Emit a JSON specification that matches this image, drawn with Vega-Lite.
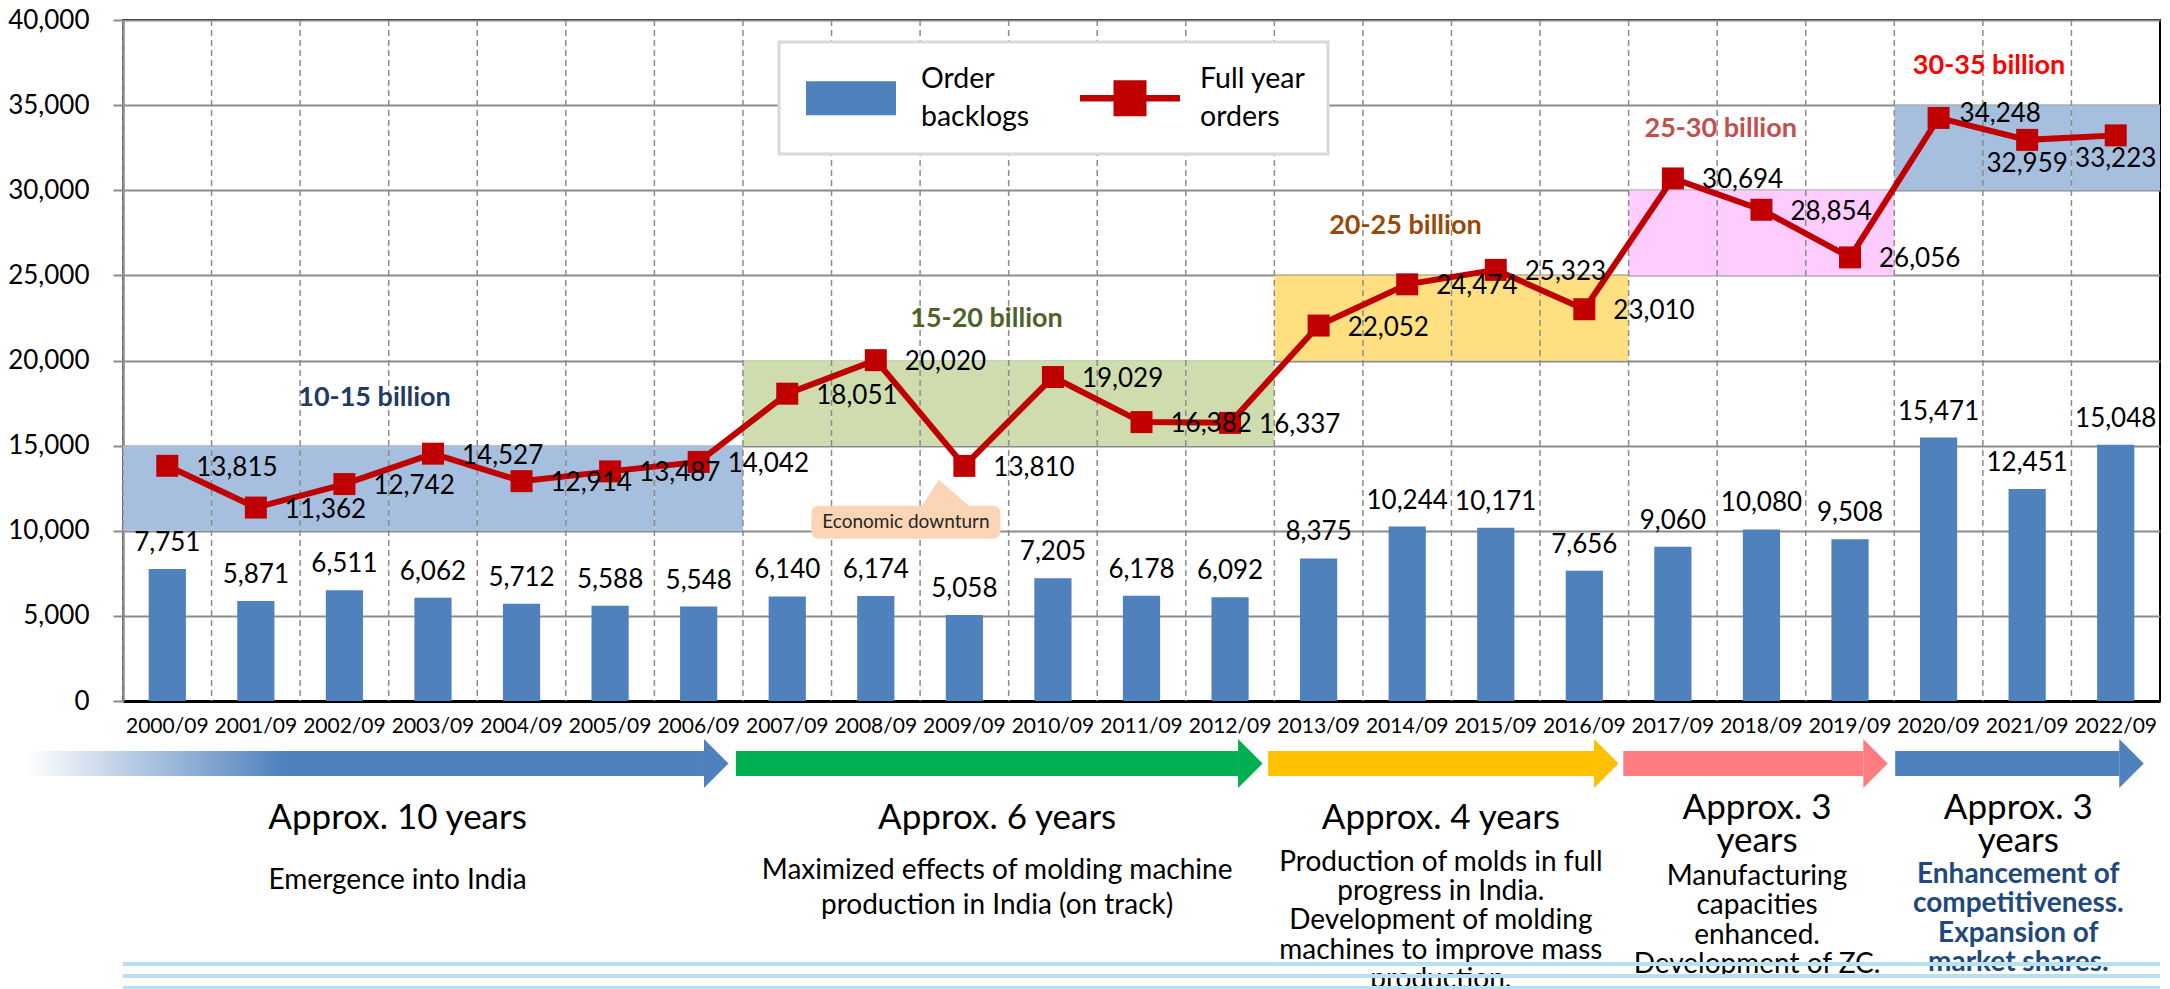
{
 "$schema": "https://vega.github.io/schema/vega-lite/v6.json",
 "background": "#ffffff",
 "padding": {"left": 6, "top": 6, "right": 5, "bottom": 0},
 "bounds": "flush",
 "spacing": 50,
 "config": {
  "font": "Lato",
  "view": {"stroke": "#000000", "strokeWidth": 2},
  "axis": {"labelFont": "Lato", "labelColor": "#000000", "titleFont": "Lato"},
  "legend": {"labelFont": "Lato"},
  "text": {"font": "Lato"}
 },
 "datasets": {
  "orders": [
   {"year": "2000/09", "backlog": 7751, "orders": 13815},
   {"year": "2001/09", "backlog": 5871, "orders": 11362},
   {"year": "2002/09", "backlog": 6511, "orders": 12742},
   {"year": "2003/09", "backlog": 6062, "orders": 14527},
   {"year": "2004/09", "backlog": 5712, "orders": 12914},
   {"year": "2005/09", "backlog": 5588, "orders": 13487},
   {"year": "2006/09", "backlog": 5548, "orders": 14042},
   {"year": "2007/09", "backlog": 6140, "orders": 18051},
   {"year": "2008/09", "backlog": 6174, "orders": 20020},
   {"year": "2009/09", "backlog": 5058, "orders": 13810},
   {"year": "2010/09", "backlog": 7205, "orders": 19029},
   {"year": "2011/09", "backlog": 6178, "orders": 16382},
   {"year": "2012/09", "backlog": 6092, "orders": 16337},
   {"year": "2013/09", "backlog": 8375, "orders": 22052},
   {"year": "2014/09", "backlog": 10244, "orders": 24474},
   {"year": "2015/09", "backlog": 10171, "orders": 25323},
   {"year": "2016/09", "backlog": 7656, "orders": 23010},
   {"year": "2017/09", "backlog": 9060, "orders": 30694},
   {"year": "2018/09", "backlog": 10080, "orders": 28854},
   {"year": "2019/09", "backlog": 9508, "orders": 26056},
   {"year": "2020/09", "backlog": 15471, "orders": 34248},
   {"year": "2021/09", "backlog": 12451, "orders": 32959},
   {"year": "2022/09", "backlog": 15048, "orders": 33223}
  ],
  "bands": [
   {"year": "2000/09", "band": "10-15 billion", "lo": 10000, "hi": 15000},
   {"year": "2001/09", "band": "10-15 billion", "lo": 10000, "hi": 15000},
   {"year": "2002/09", "band": "10-15 billion", "lo": 10000, "hi": 15000},
   {"year": "2003/09", "band": "10-15 billion", "lo": 10000, "hi": 15000},
   {"year": "2004/09", "band": "10-15 billion", "lo": 10000, "hi": 15000},
   {"year": "2005/09", "band": "10-15 billion", "lo": 10000, "hi": 15000},
   {"year": "2006/09", "band": "10-15 billion", "lo": 10000, "hi": 15000},
   {"year": "2007/09", "band": "15-20 billion", "lo": 15000, "hi": 20000},
   {"year": "2008/09", "band": "15-20 billion", "lo": 15000, "hi": 20000},
   {"year": "2009/09", "band": "15-20 billion", "lo": 15000, "hi": 20000},
   {"year": "2010/09", "band": "15-20 billion", "lo": 15000, "hi": 20000},
   {"year": "2011/09", "band": "15-20 billion", "lo": 15000, "hi": 20000},
   {"year": "2012/09", "band": "15-20 billion", "lo": 15000, "hi": 20000},
   {"year": "2013/09", "band": "20-25 billion", "lo": 20000, "hi": 25000},
   {"year": "2014/09", "band": "20-25 billion", "lo": 20000, "hi": 25000},
   {"year": "2015/09", "band": "20-25 billion", "lo": 20000, "hi": 25000},
   {"year": "2016/09", "band": "20-25 billion", "lo": 20000, "hi": 25000},
   {"year": "2017/09", "band": "25-30 billion", "lo": 25000, "hi": 30000},
   {"year": "2018/09", "band": "25-30 billion", "lo": 25000, "hi": 30000},
   {"year": "2019/09", "band": "25-30 billion", "lo": 25000, "hi": 30000},
   {"year": "2020/09", "band": "30-35 billion", "lo": 30000, "hi": 35000},
   {"year": "2021/09", "band": "30-35 billion", "lo": 30000, "hi": 35000},
   {"year": "2022/09", "band": "30-35 billion", "lo": 30000, "hi": 35000}
  ],
  "bandLabels": [
   {"band": "10-15 billion", "year": "2002/09", "value": 17790},
   {"band": "15-20 billion", "year": "2009/09", "value": 22430},
   {"band": "20-25 billion", "year": "2014/09", "value": 27890},
   {"band": "25-30 billion", "year": "2018/09", "value": 33600},
   {"band": "30-35 billion", "year": "2021/09", "value": 37300}
  ],
  "callout": [
   {"text": "Economic downturn", "year": "2008/09", "value": 10500}
  ],
  "periods": [
   {"phase": 1, "start": 1998.41, "end": 2006.06, "mid": 2002.6, "title": "Approx. 10 years", "note": "Emergence into India"},
   {"phase": 2, "start": 2006.42, "end": 2012.09, "mid": 2009.37, "title": "Approx. 6 years", "note": "Maximized effects of molding machine\nproduction in India (on track)"},
   {"phase": 3, "start": 2012.43, "end": 2016.11, "mid": 2014.38, "title": "Approx. 4 years", "note": "Production of molds in full\nprogress in India.\nDevelopment of molding\nmachines to improve mass\nproduction."},
   {"phase": 4, "start": 2016.44, "end": 2019.15, "mid": 2017.95, "title": "Approx. 3\nyears", "note": "Manufacturing\ncapacities\nenhanced.\nDevelopment of ZC."},
   {"phase": 5, "start": 2019.51, "end": 2022.04, "mid": 2020.9, "title": "Approx. 3\nyears", "note": "Enhancement of\ncompetitiveness.\nExpansion of\nmarket shares."}
  ],
  "stripes": [{"stripe": "a"}, {"stripe": "b"}, {"stripe": "c"}]
 },
 "resolve": {"scale": {"color": "independent", "fill": "independent"}},
 "vconcat": [
  {
   "width": 2037,
   "height": 681,
   "encoding": {
    "x": {"field": "year", "type": "nominal", "title": null,
     "scale": {"paddingInner": 0, "paddingOuter": 0},
     "axis": {"labelFontSize": 21, "labelAngle": 0, "labelPadding": 14, "ticks": false, "tickSize": 0, "grid": false, "domain": true, "domainColor": "#000000", "domainWidth": 3, "labelOverlap": false, "labelBound": false}}
   },
   "layer": [
    {
     "data": {"name": "bands"},
     "mark": {"type": "bar", "width": {"band": 1}, "strokeWidth": 0},
     "encoding": {
      "y": {"field": "lo", "type": "quantitative", "title": null,
       "scale": {"domain": [0, 40000], "nice": false},
       "axis": {"values": [0, 5000, 10000, 15000, 20000, 25000, 30000, 35000, 40000], "format": ",.0f", "labelFontSize": 26, "labelPadding": 24, "tickSize": 10, "tickColor": "#8C8C8C", "tickWidth": 2, "domainColor": "#8C8C8C", "domainWidth": 2.5, "grid": true, "gridColor": "#8C8C8C", "gridWidth": 2}},
      "y2": {"field": "hi"},
      "fill": {"field": "band", "type": "nominal",
       "scale": {"domain": ["10-15 billion", "15-20 billion", "20-25 billion", "25-30 billion", "30-35 billion"], "range": ["#A7BFDE", "#CFDDAE", "#FFDF80", "#FFCCFF", "#A7BFDE"]},
       "legend": null}
     }
    },
    {
     "data": {"name": "orders"},
     "mark": {"type": "rule", "color": "#8C8C8C", "strokeWidth": 1.5, "strokeDash": [6, 4]},
     "encoding": {"x": {"field": "year", "type": "nominal", "bandPosition": 0, "title": null}}
    },
    {
     "data": {"name": "orders"},
     "mark": {"type": "bar", "width": {"band": 0.42}},
     "encoding": {
      "y": {"field": "backlog", "type": "quantitative", "title": null},
      "color": {"datum": "Order backlogs", "type": "nominal",
       "scale": {"domain": ["Order backlogs", "Full year orders"], "range": ["#4F81BD", "#C00000"]},
       "legend": {
        "title": null, "orient": "none", "legendX": 656, "legendY": 22, "direction": "horizontal", "columns": 2,
        "fillColor": "#ffffff", "strokeColor": "#D9D9D9", "padding": 22, "columnPadding": 50,
        "labelFontSize": 28.5, "labelColor": "#000000", "labelLimit": 400, "labelOffset": 20,
        "symbolSize": 10000, "symbolStrokeWidth": 0, "symbolOpacity": 1,
        "labelExpr": "datum.label == 'Order backlogs' ? ['Order', 'backlogs'] : ['Full year', 'orders']",
        "encode": {
         "symbols": {"update": {
          "shape": {"signal": "datum.value == 'Order backlogs' ? 'M-0.9,-0.34H0.9V0.34H-0.9Z' : 'M-1,-0.065H1V0.065H-1Z M-0.33,-0.36H0.33V0.36H-0.33Z'"},
          "fill": {"signal": "datum.value == 'Order backlogs' ? '#4F81BD' : '#C00000'"},
          "stroke": {"value": "transparent"},
          "strokeWidth": {"value": 0},
          "opacity": {"value": 1},
          "fillOpacity": {"value": 1},
          "y": {"value": 34}
         }},
         "labels": {"update": {"lineHeight": {"value": 38}, "dy": {"value": -19}, "y": {"value": 34}}},
         "legend": {"update": {"strokeWidth": {"value": 3}}}
        }
       }
      }
     }
    },
    {
     "data": {"name": "orders"},
     "mark": {"type": "line", "strokeWidth": 6},
     "encoding": {
      "y": {"field": "orders", "type": "quantitative", "title": null},
      "color": {"datum": "Full year orders", "type": "nominal"}
     }
    },
    {
     "data": {"name": "orders"},
     "mark": {"type": "point", "shape": "square", "filled": true, "size": 484, "opacity": 1},
     "encoding": {
      "y": {"field": "orders", "type": "quantitative", "title": null},
      "color": {"datum": "Full year orders", "type": "nominal"}
     }
    },
    {
     "data": {"name": "orders"},
     "mark": {"type": "text", "fontSize": 26, "color": "#000000", "baseline": "middle", "align": "center", "dy": -26},
     "encoding": {
      "y": {"field": "backlog", "type": "quantitative", "title": null},
      "text": {"field": "backlog", "type": "quantitative", "format": ","}
     }
    },
    {
     "data": {"name": "orders"},
     "transform": [{"filter": "datum.year <= '2019/09'"}],
     "mark": {"type": "text", "fontSize": 26, "color": "#000000", "baseline": "middle", "align": "left", "dx": 29, "dy": 2},
     "encoding": {
      "y": {"field": "orders", "type": "quantitative", "title": null},
      "text": {"field": "orders", "type": "quantitative", "format": ","}
     }
    },
    {
     "data": {"name": "orders"},
     "transform": [{"filter": "datum.year == '2020/09'"}],
     "mark": {"type": "text", "fontSize": 26, "color": "#000000", "baseline": "middle", "align": "left", "dx": 21, "dy": -4},
     "encoding": {
      "y": {"field": "orders", "type": "quantitative", "title": null},
      "text": {"field": "orders", "type": "quantitative", "format": ","}
     }
    },
    {
     "data": {"name": "orders"},
     "transform": [{"filter": "datum.year >= '2021/09'"}],
     "mark": {"type": "text", "fontSize": 26, "color": "#000000", "baseline": "middle", "align": "center", "dy": 24},
     "encoding": {
      "y": {"field": "orders", "type": "quantitative", "title": null},
      "text": {"field": "orders", "type": "quantitative", "format": ","}
     }
    },
    {
     "data": {"name": "bandLabels"},
     "transform": [{"filter": "datum.band == '10-15 billion'"}],
     "mark": {"type": "text", "fontSize": 27, "fontWeight": "bold", "color": "#1F3B66", "baseline": "middle", "align": "center"},
     "encoding": {
      "x": {"field": "year", "type": "nominal", "bandPosition": 0.84, "title": null},
      "y": {"field": "value", "type": "quantitative", "title": null},
      "text": {"field": "band"}
     }
    },
    {
     "data": {"name": "bandLabels"},
     "transform": [{"filter": "datum.band == '15-20 billion'"}],
     "mark": {"type": "text", "fontSize": 27, "fontWeight": "bold", "color": "#4F6228", "baseline": "middle", "align": "center"},
     "encoding": {
      "x": {"field": "year", "type": "nominal", "bandPosition": 0.75, "title": null},
      "y": {"field": "value", "type": "quantitative", "title": null},
      "text": {"field": "band"}
     }
    },
    {
     "data": {"name": "bandLabels"},
     "transform": [{"filter": "datum.band == '20-25 billion'"}],
     "mark": {"type": "text", "fontSize": 27, "fontWeight": "bold", "color": "#984807", "baseline": "middle", "align": "center"},
     "encoding": {
      "x": {"field": "year", "type": "nominal", "bandPosition": 0.48, "title": null},
      "y": {"field": "value", "type": "quantitative", "title": null},
      "text": {"field": "band"}
     }
    },
    {
     "data": {"name": "bandLabels"},
     "transform": [{"filter": "datum.band == '25-30 billion'"}],
     "mark": {"type": "text", "fontSize": 27, "fontWeight": "bold", "color": "#C0504D", "baseline": "middle", "align": "center"},
     "encoding": {
      "x": {"field": "year", "type": "nominal", "bandPosition": 0.04, "title": null},
      "y": {"field": "value", "type": "quantitative", "title": null},
      "text": {"field": "band"}
     }
    },
    {
     "data": {"name": "bandLabels"},
     "transform": [{"filter": "datum.band == '30-35 billion'"}],
     "mark": {"type": "text", "fontSize": 27, "fontWeight": "bold", "color": "#FF0000", "baseline": "middle", "align": "center"},
     "encoding": {
      "x": {"field": "year", "type": "nominal", "bandPosition": 0.07, "title": null},
      "y": {"field": "value", "type": "quantitative", "title": null},
      "text": {"field": "band"}
     }
    },
    {
     "data": {"name": "callout"},
     "mark": {"type": "point", "shape": "M-0.865,-0.165H0.16L0.33,-0.425L0.63,-0.165H0.865Q0.945,-0.165 0.945,-0.085V0.085Q0.945,0.165 0.865,0.165H-0.865Q-0.945,0.165 -0.945,0.085V-0.085Q-0.945,-0.165 -0.865,-0.165Z", "size": 40000, "filled": true, "color": "#FBD5B5", "opacity": 1, "strokeWidth": 0},
     "encoding": {
      "x": {"field": "year", "type": "nominal", "bandPosition": 0.84, "title": null},
      "y": {"field": "value", "type": "quantitative", "title": null}
     }
    },
    {
     "data": {"name": "callout"},
     "mark": {"type": "text", "fontSize": 19, "color": "#262626", "baseline": "middle", "align": "center"},
     "encoding": {
      "x": {"field": "year", "type": "nominal", "bandPosition": 0.84, "title": null},
      "y": {"field": "value", "type": "quantitative", "title": null},
      "text": {"field": "text"}
     }
    }
   ]
  },
  {
   "bounds": "flush",
   "spacing": 188,
   "vconcat": [
    {
     "width": 2037,
     "height": 25,
     "view": {"stroke": null},
     "data": {"name": "periods"},
     "layer": [
      {
       "transform": [{"filter": "datum.phase != 1"}],
       "mark": {"type": "rect"},
       "encoding": {
        "x": {"field": "start", "type": "quantitative", "scale": {"domain": [1999.5, 2022.5], "nice": false, "zero": false}, "axis": null},
        "x2": {"field": "end"},
        "color": {"field": "phase", "type": "nominal", "scale": {"domain": [1, 2, 3, 4, 5], "range": ["#4F81BD", "#00B050", "#FFC000", "#FF7C80", "#4F81BD"]}, "legend": null}
       }
      },
      {
       "transform": [{"filter": "datum.phase == 1"}],
       "mark": {"type": "rect", "color": {"gradient": "linear", "x1": 0, "y1": 0, "x2": 1, "y2": 0, "stops": [{"offset": 0, "color": "#FFFFFF"}, {"offset": 0.38, "color": "#4F81BD"}, {"offset": 1, "color": "#4F81BD"}]}},
       "encoding": {
        "x": {"field": "start", "type": "quantitative", "axis": null},
        "x2": {"field": "end"}
       }
      },
      {
       "mark": {"type": "point", "shape": "M0,-1L1,0L0,1Z", "size": 2401, "filled": true, "opacity": 1},
       "encoding": {
        "x": {"field": "end", "type": "quantitative", "axis": null},
        "color": {"field": "phase", "type": "nominal", "legend": null}
       }
      },
      {
       "transform": [{"filter": "datum.phase <= 3"}],
       "mark": {"type": "text", "fontSize": 35, "color": "#000000", "baseline": "middle", "align": "center", "dy": 54},
       "encoding": {
        "x": {"field": "mid", "type": "quantitative", "axis": null},
        "text": {"field": "title"}
       }
      },
      {
       "transform": [{"filter": "datum.phase >= 4"}],
       "mark": {"type": "text", "fontSize": 35, "color": "#000000", "lineBreak": "\n", "lineHeight": 33, "baseline": "middle", "align": "center", "dy": 44},
       "encoding": {
        "x": {"field": "mid", "type": "quantitative", "axis": null},
        "text": {"field": "title"}
       }
      },
      {
       "transform": [{"filter": "datum.phase == 1"}],
       "mark": {"type": "text", "fontSize": 28, "color": "#000000", "lineBreak": "\n", "lineHeight": 30, "baseline": "top", "align": "center", "dy": 103},
       "encoding": {
        "x": {"field": "mid", "type": "quantitative", "axis": null},
        "text": {"field": "note"}
       }
      },
      {
       "transform": [{"filter": "datum.phase == 2"}],
       "mark": {"type": "text", "fontSize": 28, "color": "#000000", "lineBreak": "\n", "lineHeight": 35, "baseline": "top", "align": "center", "dy": 93},
       "encoding": {
        "x": {"field": "mid", "type": "quantitative", "axis": null},
        "text": {"field": "note"}
       }
      },
      {
       "transform": [{"filter": "datum.phase == 3"}],
       "mark": {"type": "text", "fontSize": 28, "color": "#000000", "lineBreak": "\n", "lineHeight": 29.4, "baseline": "top", "align": "center", "dy": 85},
       "encoding": {
        "x": {"field": "mid", "type": "quantitative", "axis": null},
        "text": {"field": "note"}
       }
      },
      {
       "transform": [{"filter": "datum.phase == 4"}],
       "mark": {"type": "text", "fontSize": 28, "color": "#000000", "lineBreak": "\n", "lineHeight": 29.5, "baseline": "top", "align": "center", "dy": 99},
       "encoding": {
        "x": {"field": "mid", "type": "quantitative", "axis": null},
        "text": {"field": "note"}
       }
      },
      {
       "transform": [{"filter": "datum.phase == 5"}],
       "mark": {"type": "text", "fontSize": 28, "fontWeight": "bold", "color": "#1F497D", "lineBreak": "\n", "lineHeight": 29.5, "baseline": "top", "align": "center", "dy": 97},
       "encoding": {
        "x": {"field": "mid", "type": "quantitative", "axis": null},
        "text": {"field": "note"}
       }
      }
     ]
    },
    {
     "width": 2037,
     "height": 24,
     "view": {"stroke": null},
     "data": {"name": "stripes"},
     "mark": {"type": "rule", "color": "#B7E1F1", "strokeWidth": 4},
     "encoding": {
      "y": {"field": "stripe", "type": "ordinal", "scale": {"type": "point", "padding": 0}, "axis": null}
     }
    }
   ]
  }
 ]
}
